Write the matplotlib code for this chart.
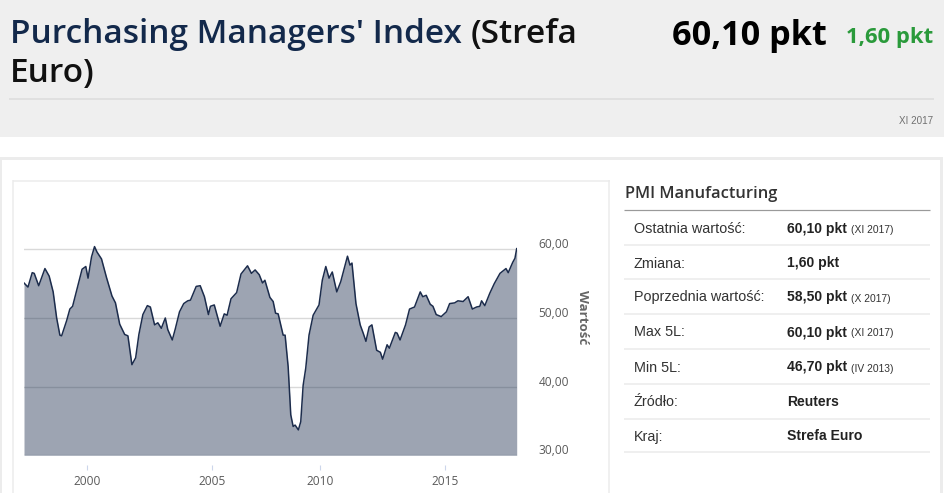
import numpy as np
import matplotlib
matplotlib.use("Agg")
import matplotlib.pyplot as plt
from matplotlib.patches import Rectangle
from matplotlib.lines import Line2D
from matplotlib.transforms import ScaledTranslation

# ---------------- data ----------------
dates = [1997.47, 1997.63, 1997.80, 1997.88, 1998.06, 1998.31, 1998.48, 1998.64,
         1998.78, 1998.91, 1998.98, 1999.18, 1999.31, 1999.42, 1999.58, 1999.80,
         1999.95, 2000.04, 2000.18, 2000.30, 2000.40, 2000.58, 2000.78, 2001.00,
         2001.14, 2001.31, 2001.51, 2001.64, 2001.80, 2001.95, 2002.08, 2002.24,
         2002.42, 2002.54, 2002.71, 2002.84, 2002.98, 2003.14, 2003.24, 2003.42,
         2003.54, 2003.71, 2003.88, 2004.04, 2004.15, 2004.38, 2004.54, 2004.71,
         2004.87, 2004.95, 2005.12, 2005.39, 2005.58, 2005.71, 2005.89, 2006.15,
         2006.35, 2006.65, 2006.83, 2007.00, 2007.19, 2007.34, 2007.45, 2007.68,
         2007.83, 2007.94, 2008.06, 2008.29, 2008.38, 2008.52, 2008.64, 2008.75,
         2008.84, 2008.99, 2009.10, 2009.21, 2009.33, 2009.48, 2009.67, 2009.94,
         2010.08, 2010.22, 2010.35, 2010.48, 2010.66, 2010.82, 2010.96, 2011.09,
         2011.19, 2011.27, 2011.43, 2011.60, 2011.72, 2011.83, 2011.96, 2012.07,
         2012.26, 2012.41, 2012.50, 2012.68, 2012.77, 2013.01, 2013.08, 2013.20,
         2013.42, 2013.58, 2013.78, 2014.01, 2014.11, 2014.25, 2014.41, 2014.52,
         2014.65, 2014.85, 2015.06, 2015.19, 2015.39, 2015.52, 2015.73, 2015.93,
         2016.10, 2016.27, 2016.40, 2016.47, 2016.60, 2016.80, 2016.98, 2017.21,
         2017.45, 2017.54, 2017.72, 2017.81, 2017.88]
values = [55.1, 54.5, 56.6, 56.5, 54.7, 57.2, 56.1, 53.8,
          50.0, 47.5, 47.4, 49.6, 51.3, 51.7, 54.0, 57.1,
          57.5, 55.8, 58.9, 60.4, 59.6, 58.6, 55.9, 53.2,
          52.2, 49.1, 47.6, 47.4, 43.2, 44.2, 47.6, 50.5,
          51.8, 51.6, 49.0, 49.3, 48.5, 50.0, 48.3, 46.8,
          48.4, 50.9, 52.1, 52.5, 52.6, 54.6, 54.7, 53.1,
          50.5, 51.7, 51.9, 48.8, 50.6, 50.4, 52.8, 53.7,
          56.4, 57.6, 56.5, 57.0, 56.3, 55.1, 55.5, 53.0,
          52.4, 50.7, 50.6, 47.5, 47.5, 42.9, 35.9, 34.2,
          34.4, 33.7, 34.9, 40.2, 42.7, 47.5, 50.4, 51.9,
          55.5, 57.5, 55.8, 56.7, 53.8, 55.3, 57.2, 59.0,
          57.7, 58.0, 52.1, 49.0, 47.8, 46.6, 48.7, 49.0,
          45.3, 45.0, 44.0, 46.1, 45.6, 47.9, 47.8, 46.8,
          49.0, 51.3, 51.6, 53.8, 53.1, 53.3, 52.0, 51.7,
          50.5, 50.2, 50.9, 52.1, 52.2, 52.5, 52.4, 53.1,
          51.3, 51.6, 51.7, 52.5, 51.8, 53.6, 55.0, 56.5,
          57.2, 56.6, 58.1, 58.7, 60.1]

year_ticks = [2000, 2005, 2010, 2015]
year_labels = ["2000", "2005", "2010", "2015"]
value_ticks = [30, 40, 50, 60]
value_labels = ["30,00", "40,00", "50,00", "60,00"]
axis_title = "Wartość"

# ordinal time axis: months missing in the source are squeezed out (2005-2010)
gap_src = [1980.0, 2005.0, 2010.0, 2040.0]
gap_dst = [1980.0, 2005.0, 2009.36, 2039.36]

title_main = "Purchasing Managers' Index"
title_paren = ["(Strefa", "Euro)"]
last_value = "60,10 pkt"
change_value = "1,60 pkt"
period = "XI 2017"

table_title = "PMI Manufacturing"
row_labels = ["Ostatnia wartość:", "Zmiana:", "Poprzednia wartość:", "Max 5L:",
              "Min 5L:", "Źródło:", "Kraj:"]
row_values = ["60,10 pkt", "1,60 pkt", "58,50 pkt", "60,10 pkt", "46,70 pkt",
              "Reuters", "Strefa Euro"]
row_notes = ["(XI 2017)", "", "(X 2017)", "(XI 2017)", "(IV 2013)", "", ""]

# ---------------- figure ----------------
W, H = 945, 493
fig = plt.figure(figsize=(W / 100, H / 100), dpi=100)
fig.patch.set_facecolor("white")
renderer = fig.canvas.get_renderer()


def X(px):
    return px / W


def Y(py):
    return 1 - py / H


def rect(x0, y0, x1, y1, color, z=-5):
    fig.add_artist(Rectangle((X(x0), Y(y1)), (x1 - x0) / W, (y1 - y0) / H,
                             transform=fig.transFigure, facecolor=color,
                             edgecolor="none", zorder=z))


def hline(x0, x1, y, color, lw_px, z=-4):
    fig.add_artist(Line2D([X(x0), X(x1)], [Y(y), Y(y)], transform=fig.transFigure,
                          color=color, lw=lw_px * 0.72, zorder=z,
                          solid_capstyle="butt"))


def vline(x, y0, y1, color, lw_px, z=-4):
    fig.add_artist(Line2D([X(x), X(x)], [Y(y0), Y(y1)], transform=fig.transFigure,
                          color=color, lw=lw_px * 0.72, zorder=z,
                          solid_capstyle="butt"))


def fit(t, width_px):
    bb = t.get_window_extent(renderer)
    t.set_fontsize(t.get_fontsize() * width_px / bb.width)
    return t.get_fontsize()


# header band
rect(0, 0, W, 137, "#efefef")
hline(9, 934, 99, "#dcdcdc", 1.5)

# outer content box
rect(0, 157, 943, 160, "#ececec")
rect(0, 157, 2.5, H, "#ececec")
rect(940, 157, 943, H, "#ececec")
# chart panel border
hline(13, 610, 180.5, "#ececec", 1.5)
vline(13.5, 180, H, "#ececec", 1.5)
vline(609, 180, H, "#ececec", 1.5)

# ---- title ----
SANS = ["Open Sans", "DejaVu Sans"]
navy = "#13294b"
TW = "semibold"
full = fig.text(X(10), Y(42.5), title_main + " " + title_paren[0], family=SANS,
                fontsize=23, weight=TW, va="baseline", ha="left", alpha=0)
fs_title = fit(full, 568)
right_edge = full.get_window_extent(renderer).x1
fig.text(X(10), Y(42.5), title_main, family=SANS, fontsize=fs_title, weight=TW,
         color=navy, va="baseline", ha="left")
fig.text(right_edge / W, Y(42.5), title_paren[0], family=SANS, fontsize=fs_title,
         weight=TW, color="#111111", va="baseline", ha="right")
fig.text(X(10), Y(81.5), title_paren[1], family=SANS, fontsize=fs_title,
         weight=TW, color="#111111", va="baseline", ha="left")

t = fig.text(X(827), Y(45), last_value, family=SANS, fontsize=27, weight="bold",
             color="#000000", va="baseline", ha="right")
fit(t, 155)
t = fig.text(X(933.5), Y(43.5), change_value, family=SANS, fontsize=17,
             weight="bold", color="#2a9a3b", va="baseline", ha="right")
fit(t, 87)
t = fig.text(X(933.5), Y(124), period, family=["Liberation Sans", "DejaVu Sans"],
             fontsize=7.5, color="#707070", va="baseline", ha="right")
fit(t, 34)

# ---------------- chart ----------------
x_left, x_right, y_top, y_bot = 24, 516.7, 235.6, 455.3
ax = fig.add_axes([X(x_left), Y(y_bot), (x_right - x_left) / W, (y_bot - y_top) / H])
ax.set_facecolor("none")
ax.set_zorder(2)


def fwd(t):
    return np.interp(t, gap_src, gap_dst)


def inv(t):
    return np.interp(t, gap_dst, gap_src)


ax.set_xscale("function", functions=(fwd, inv))
ax.set_xlim(dates[0], dates[-1])
ax.set_ylim(30, 62)

for v in value_ticks:
    ax.axhline(v, color="#d9d9d9", lw=1.0, zorder=0.5)
ax.fill_between(dates, values, 30, color="#1c2e4e", alpha=0.43, lw=0, zorder=1)
ax.plot(dates, values, color="#1c2c4c", lw=1.1, zorder=2)

for s in ["top", "left", "right"]:
    ax.spines[s].set_visible(False)
ax.spines["bottom"].set_position(("outward", 7.2))
ax.spines["bottom"].set_color("none")
ax.set_xticks(year_ticks, year_labels, family=SANS)
ax.xaxis.set_minor_locator(matplotlib.ticker.NullLocator())
ax.tick_params(axis="x", direction="out", length=3.6, width=0.8, color="#ccd6eb",
               pad=3.2, labelsize=8.6, labelcolor="#5a5a5a")
ax.set_yticks([])
off = ScaledTranslation(22 / 100, 1 / 100, fig.dpi_scale_trans)
for v, lab in zip(value_ticks, value_labels):
    ax.text(1.0, v, lab, transform=ax.get_yaxis_transform() + off, family=SANS,
            fontsize=8.6, color="#5a5a5a", ha="left", va="baseline")
fig.text(X(582.5), Y(317.5), axis_title, family=SANS, fontsize=9.6, weight="bold",
         color="#666666", rotation=270, ha="center", va="center")

# ---------------- table ----------------
ARIAL = ["Liberation Sans", "DejaVu Sans"]
t = fig.text(X(625), Y(198), table_title, family=SANS, fontsize=12,
             weight="semibold", color="#333333", va="baseline", ha="left")
fit(t, 153)
hline(624, 930, 209.5, "#9a9a9a", 1.2)

row_y = [227.7, 262.5, 296.5, 331.5, 366.5, 401, 435.5]
sep_y = [245, 279, 313.5, 349, 384, 418.5, 452]
probe = fig.text(0, 0, row_labels[0], family=ARIAL, fontsize=10, alpha=0)
fs_lab = fit(probe, 111)
probe2 = fig.text(0, 0, row_values[0], family=ARIAL, fontsize=10, weight="bold",
                  alpha=0)
fs_val = fit(probe2, 60)
probe3 = fig.text(0, 0, row_notes[0], family=ARIAL, fontsize=7, alpha=0)
fs_note = fit(probe3, 42)
for yy, lab, val, note in zip(row_y, row_labels, row_values, row_notes):
    fig.text(X(634), Y(yy + 5), lab, family=ARIAL, fontsize=fs_lab,
             color="#333333", va="baseline", ha="left")
    tv = fig.text(X(787.5), Y(yy + 5), val, family=ARIAL, fontsize=fs_val,
                  weight="bold", color="#222222", va="baseline", ha="left")
    if note:
        x1 = tv.get_window_extent(renderer).x1
        fig.text((x1 + 3.5) / W, Y(yy + 5), note, family=ARIAL, fontsize=fs_note,
                 color="#333333", va="baseline", ha="left")
for yy in sep_y:
    hline(624, 930, yy, "#efefef", 2)

fig.savefig("out.png", dpi=100, facecolor="white")
